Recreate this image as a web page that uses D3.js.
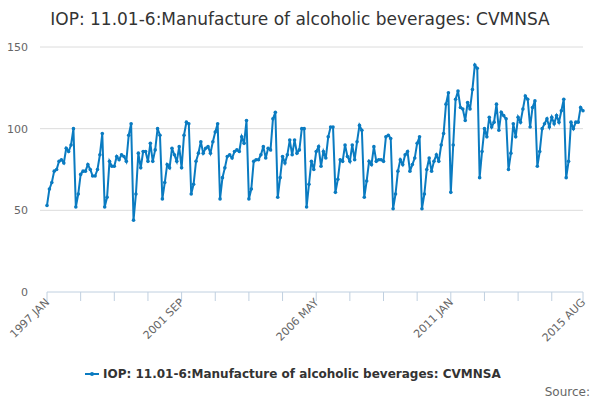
<!DOCTYPE html>
<html><head><meta charset="utf-8">
<script src="https://cdn.jsdelivr.net/npm/d3@7"></script>
<style>body{margin:0;font-family:"DejaVu Sans",sans-serif;}</style>
</head><body><svg id="chart" width="600" height="400"></svg>
<script>
var startYear = 1997
var tickLabels = ["1997 JAN", "2001 SEP", "2006 MAY", "2011 JAN", "2015 AUG"]
var monthNames = ["JAN","FEB","MAR","APR","MAY","JUN","JUL","AUG","SEP","OCT","NOV","DEC"]
var values = [
  53,63,67,74,75,80,81,79,88,86,90,100,
  52,60,72,74,74,78,75,71,71,75,84,97,
  52,58,80,77,77,83,81,84,83,80,96,103,
  44,60,85,76,86,86,80,91,80,87,100,96,
  57,67,78,76,88,84,80,89,76,96,104,103,
  60,66,80,85,92,85,88,89,85,92,98,103,
  57,70,76,83,84,82,86,87,86,95,91,105,
  57,63,80,81,81,84,89,82,88,87,106,110,
  58,70,83,79,84,93,84,93,85,87,100,100,
  52,66,80,75,86,89,77,86,82,95,101,101,
  61,69,81,80,90,83,80,90,81,92,102,99,
  58,68,80,78,89,80,81,81,80,95,96,94,
  51,60,74,81,78,84,86,74,78,82,91,95,
  51,60,75,82,74,80,84,80,90,97,115,122,
  61,90,118,123,113,112,105,116,112,124,139,137,
  70,86,100,95,107,101,104,115,99,110,108,106,
  75,85,103,95,107,104,112,120,118,101,113,117,
  77,86,100,103,106,101,107,103,108,104,111,118,
  70,80,104,100,104,104,113,111
]
var yTicks = [0, 50, 100, 150]

var svg = d3.select("#chart")
var x = d3.scaleLinear().domain([0, values.length - 1]).range([47, 583])
var y = d3.scaleLinear().domain([0, 150]).range([292, 47])

var label = function (i) { return (startYear + Math.floor(i / 12)) + " " + monthNames[i % 12] }

svg.append("text").attr("x", 300).attr("y", 25).attr("text-anchor", "middle")
  .attr("font-size", 17).attr("fill", "#333")
  .text("IOP: 11.01-6:Manufacture of alcoholic beverages: CVMNSA")

svg.selectAll(".grid").data(yTicks.slice(1)).enter().append("line")
  .attr("x1", 40).attr("x2", 583).attr("y1", y).attr("y2", y)
  .attr("stroke", "#dcdcdc")
svg.selectAll(".ylab").data(yTicks).enter().append("text")
  .attr("x", 28).attr("y", function (d) { return y(d) + 4 }).attr("text-anchor", "end")
  .attr("font-size", 11).attr("fill", "#666").text(function (d) { return d })

var tickIdx = d3.range(0, values.length, 14).concat([values.length - 1])
var gx = svg.append("g")
gx.append("line").attr("x1", 47).attr("x2", 583).attr("y1", 292).attr("y2", 292).attr("stroke", "#c0d0e0")
gx.selectAll("line.t").data(tickIdx).enter().append("line")
  .attr("x1", x).attr("x2", x).attr("y1", 292).attr("y2", 301).attr("stroke", "#c0d0e0")
gx.selectAll("text").data(tickIdx.filter(function (i) { return tickLabels.indexOf(label(i)) >= 0 }))
  .enter().append("text")
  .attr("transform", function (i) { return "translate(" + (x(i) + 3) + ",303) rotate(-45)" })
  .attr("text-anchor", "end").attr("font-size", 11).attr("fill", "#666")
  .text(label)

var line = d3.line().x(function (d, i) { return x(i) }).y(function (d) { return y(d) })
svg.append("path").datum(values).attr("d", line).attr("fill", "none")
  .attr("stroke", "#0a7bc1").attr("stroke-width", 2)
svg.selectAll("circle").data(values).enter().append("circle")
  .attr("cx", function (d, i) { return x(i) }).attr("cy", y).attr("r", 1.8).attr("fill", "#0a7bc1")

var lg = svg.append("g").attr("transform", "translate(85,374)")
lg.append("line").attr("x1", 0).attr("x2", 14).attr("stroke", "#0a7bc1").attr("stroke-width", 2)
lg.append("circle").attr("cx", 7).attr("r", 2).attr("fill", "#0a7bc1")
lg.append("text").attr("x", 18).attr("y", 4).attr("font-size", 12).attr("font-weight", "bold")
  .attr("fill", "#333").text("IOP: 11.01-6:Manufacture of alcoholic beverages: CVMNSA")
svg.append("text").attr("x", 590).attr("y", 396).attr("text-anchor", "end")
  .attr("font-size", 12).attr("fill", "#666").text("Source:")
</script></body></html>
